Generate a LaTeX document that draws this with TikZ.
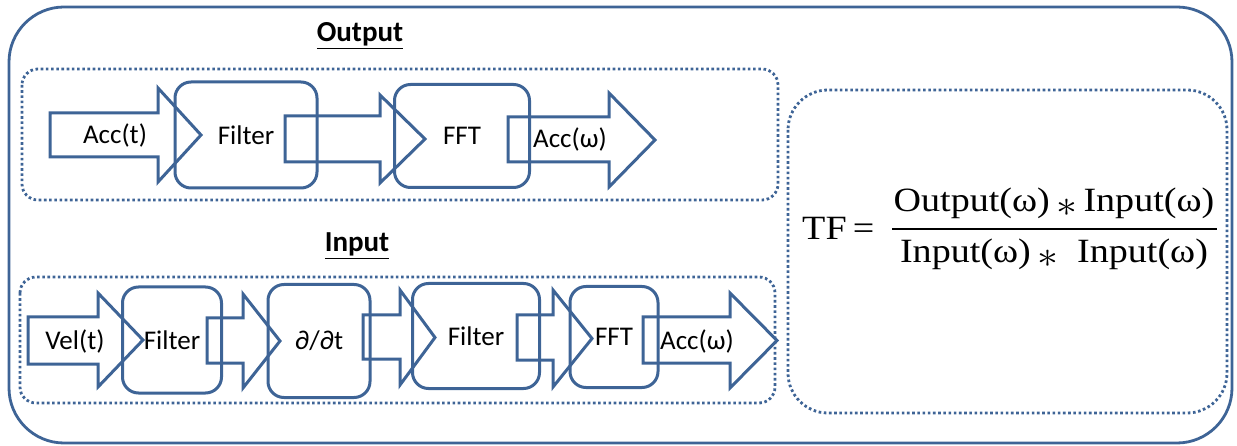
\documentclass[tikz,border=0pt]{standalone}
\usepackage{fontspec}
\setmainfont{Carlito}
\newfontfamily\eqfont{Liberation Serif}
\definecolor{edge}{RGB}{62,100,150}
\tikzset{
  frame/.style={draw=edge, line width=2.8pt},
  dotbox/.style={draw=edge, line width=2.8pt, dash pattern=on 2.6pt off 2.6pt},
  procbox/.style={draw=edge, line width=3pt, rounded corners=16pt, inner sep=0pt,
    font=\fontsize{27}{30}\selectfont},
  blockarrow/.style={draw=edge, line width=3pt, line join=miter},
  lbl/.style={font=\fontsize{27}{30}\selectfont, inner sep=0pt},
  heading/.style={font=\bfseries\fontsize{29}{32}\selectfont, inner sep=0pt},
  eq/.style={font=\eqfont\fontsize{34}{38}\selectfont, inner sep=0pt, xscale=1.12},
}
\newcommand\bigast{\raisebox{-0.12em}{\scalebox{1.5}{$\ast$}}}
% block arrow: body left x, body top y, body bottom y, head x, head top y, head bottom y, tip x
\newcommand\blockarr[7]{%
  \draw[blockarrow] (#1,#2) -- (#4,#2) -- (#4,#5) -- (#7,{(#5+#6)/2})
    -- (#4,#6) -- (#4,#3) -- (#1,#3) -- cycle;}
\begin{document}
\begin{tikzpicture}[x=1pt,y=-1pt]
\useasboundingbox (0,0) rectangle (1237,446);
% outer frame
\draw[frame, rounded corners=55pt] (9,7) rectangle (1232,443);

% ---------- Output chain ----------
\node[heading, anchor=base] (outh) at (360,42) {\underline{Output}};
\draw[dotbox, rounded corners=16pt] (22,69) rectangle (778,200);
\blockarr{50}{113}{157}{158}{88}{182}{201}
\node[procbox, minimum width=142pt, minimum height=106pt] (ofilt) at (246,135) {Filter};
\blockarr{285}{116}{162}{380}{95}{183}{425}
\node[procbox, minimum width=135pt, minimum height=103pt] (offt) at (462,136) {FFT};
\blockarr{508}{117}{162}{609}{93}{187}{655}
\node[lbl] (oacct) at (115,135) {Acc(t)};
\node[lbl] (oaccw) at (570,139) {Acc(ω)};

% ---------- Input chain ----------
\node[heading, anchor=base] (inh) at (357,252) {\underline{Input}};
\draw[dotbox, rounded corners=16pt] (20,277) rectangle (775,403);
\blockarr{28}{317}{364}{98}{293}{387}{143}
\node[procbox, minimum width=99pt, minimum height=106pt] (ifilt1) at (172,340) {Filter};
\blockarr{207}{318}{363}{243}{294}{388}{280}
\node[procbox, minimum width=102pt, minimum height=113pt] (iddt) at (319,341) {∂/∂t};
\blockarr{363}{315}{359}{400}{290}{385}{435}
\node[procbox, minimum width=127pt, minimum height=105pt] (ifilt2) at (476,336) {Filter};
\blockarr{517}{315}{360}{553}{290}{387}{592}
\node[procbox, minimum width=88pt, minimum height=101pt] (ifft) at (614,337) {FFT};
\blockarr{643}{317}{363}{730}{293}{388}{777}
\node[lbl] (ivelt) at (75,341) {Vel(t)};
\node[lbl] (iaccw) at (697,341) {Acc(ω)};

% ---------- transfer function ----------
\draw[dotbox, rounded corners=40pt] (788,90) rectangle (1227,413);
\node[eq, anchor=base west, xscale=1] (tf) at (802,240) {TF\,=};
\coordinate (fl) at (892,229);
\coordinate (fr) at (1217,229);
\draw[line width=1.6pt] (fl) -- (fr);
\node[eq, anchor=base] (num) at (1054,212) {Output(ω)\,\bigast\,Input(ω)};
\node[eq, anchor=base] (den) at (1054,263) {Input(ω)\,\bigast\ \ Input(ω)};
\end{tikzpicture}
\end{document}
